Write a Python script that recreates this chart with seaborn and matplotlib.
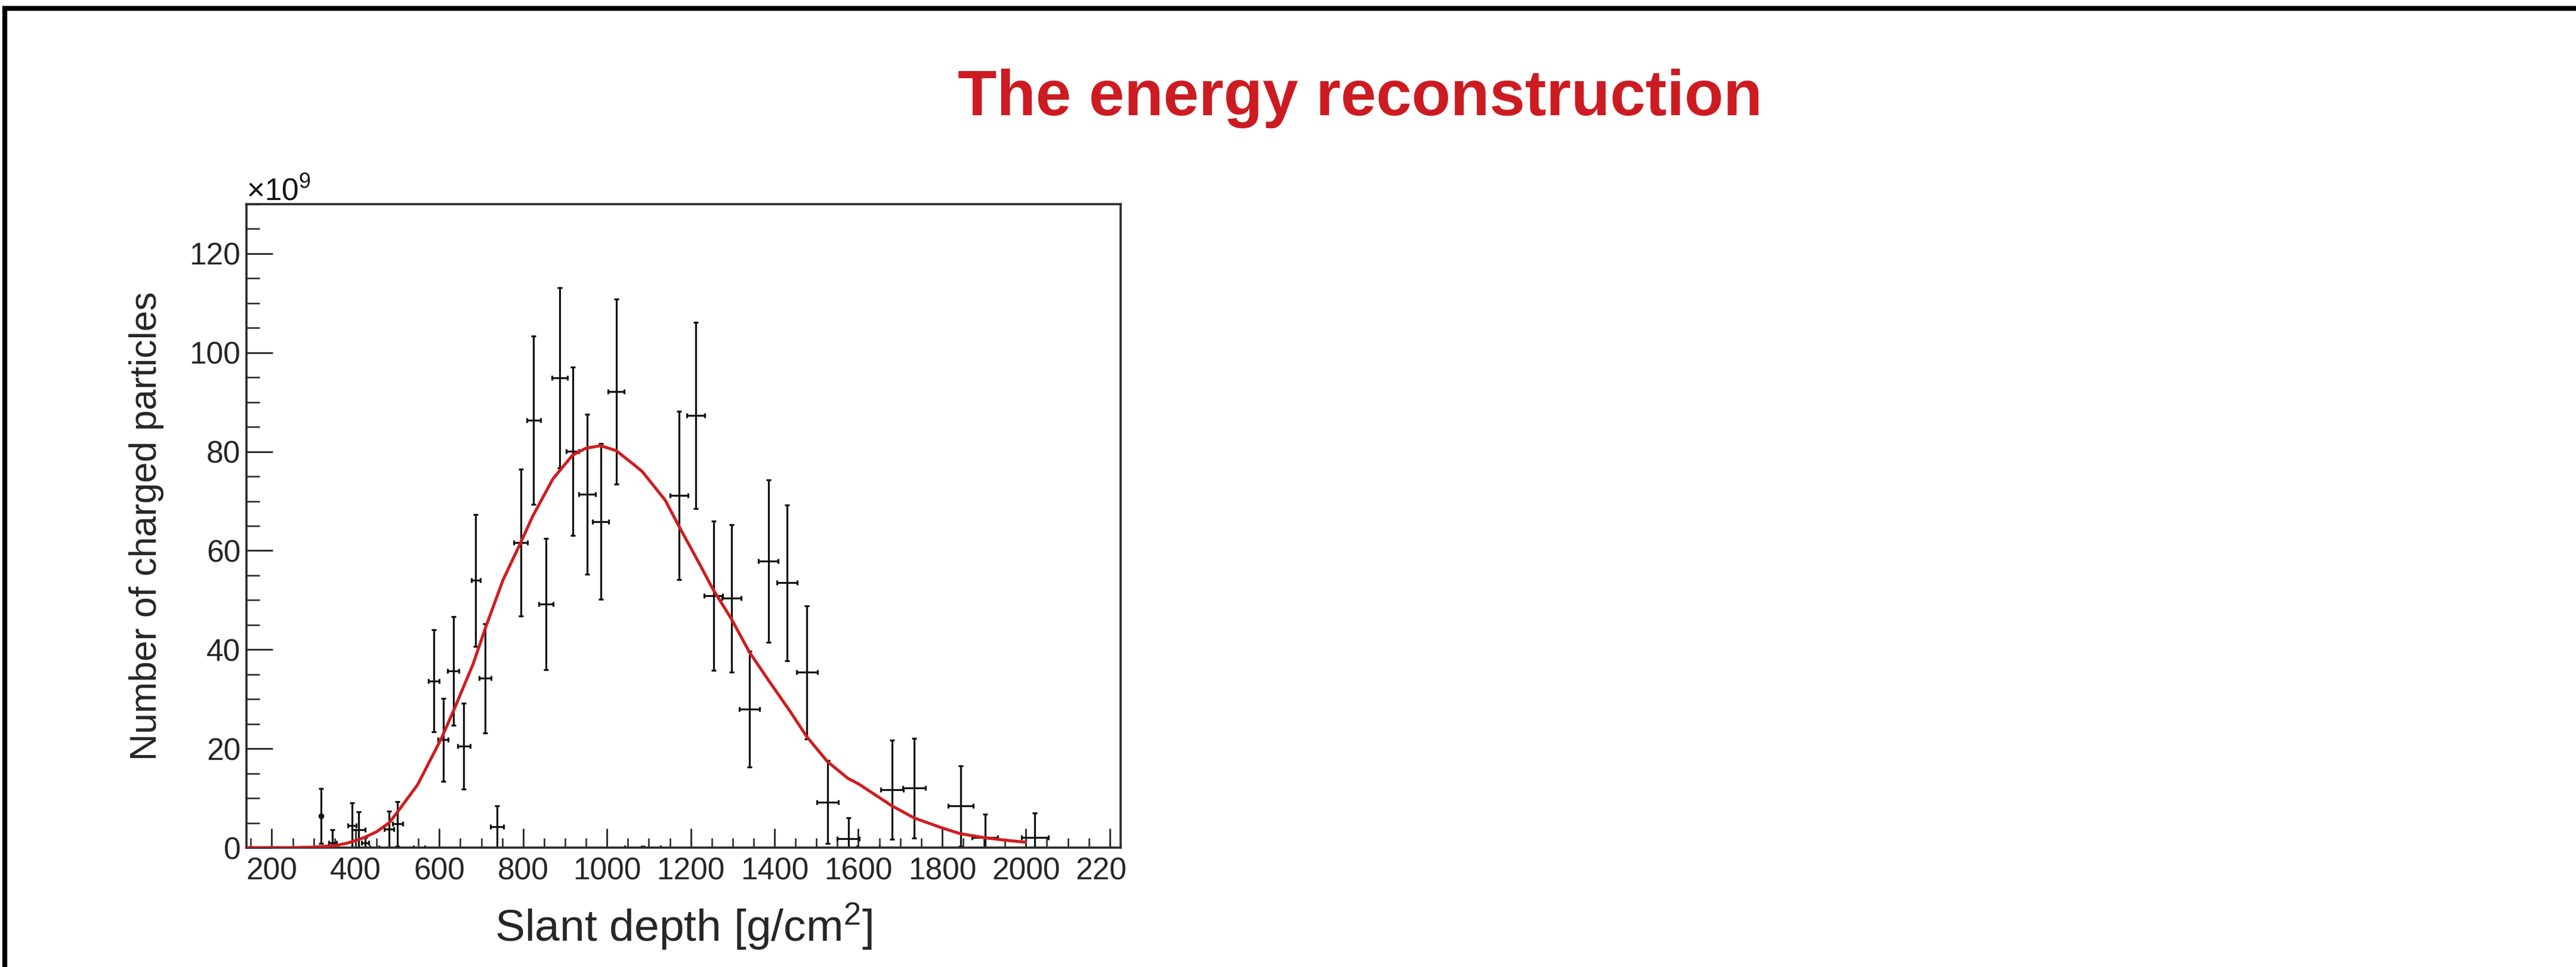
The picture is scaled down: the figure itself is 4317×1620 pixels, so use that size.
import numpy as np
import pandas as pd
import matplotlib
matplotlib.use("Agg")
import matplotlib.pyplot as plt
import seaborn as sns
from matplotlib.ticker import MultipleLocator, FixedLocator
from matplotlib.transforms import Bbox, TransformedBbox
from matplotlib.lines import Line2D

# ---------------- data ----------------
title_text = "The energy reconstruction"
x_label = "Slant depth [g/cm$^{2}$]"
y_label = "Number of charged particles"
y_multiplier = "×10$^{9}$"

depth = [318, 345, 391, 407, 423, 480, 500, 587, 609, 633, 658, 687, 709, 738,
         794, 825, 855, 887, 918, 953, 985, 1022, 1172, 1212, 1254, 1297, 1340,
         1385, 1430, 1477, 1527, 1576, 1680, 1733, 1844, 1902, 2021]
particles = [6.4, 1.0, 4.5, 3.6, 1.0, 3.7, 4.8, 33.7, 21.8, 35.7, 20.5, 54.0, 34.2, 4.2,
             61.6, 86.3, 49.2, 94.9, 80.1, 71.4, 65.9, 92.1, 71.1, 87.3, 50.9, 50.4, 28.0,
             57.9, 53.5, 35.4, 9.2, 1.8, 11.7, 12.0, 8.4, 2.0, 2.0]
particles_err = [5.5, 2.6, 4.5, 3.6, 1.0, 3.7, 4.5, 10.3, 8.4, 11.0, 8.7, 13.3, 11.0, 4.2,
                 14.8, 17.0, 13.3, 18.2, 17.0, 16.2, 15.7, 18.7, 17.0, 18.8, 15.1, 14.9, 11.7,
                 16.4, 15.7, 13.5, 8.4, 4.2, 10.0, 10.1, 8.1, 4.8, 5.0]
depth_err = [0, 9, 10, 16, 8, 11, 12, 13, 12, 14, 15, 11, 14, 16,
             16, 16, 17, 19, 15, 20, 19, 19, 21, 22, 22, 23, 24,
             24, 24, 25, 26, 26, 27, 27, 30, 31, 32]

zero_depth = [445, 552, 1062, 1108, 1623]
zero_particles = [0, 0, 0, 0, 0]
zero_depth_err = [10, 14, 20, 20, 27]

fit_depth = [140, 250, 300, 350, 380, 420, 450, 480, 500, 548, 605, 634, 681, 710,
             752, 794, 823, 871, 918, 950, 985, 1022, 1061, 1084, 1139, 1172, 1221,
             1253, 1297, 1340, 1384, 1439, 1477, 1526, 1575, 1600, 1679, 1733, 1799,
             1844, 1901, 1950, 1999]
fit_particles = [0.0, 0.0, 0.1, 0.4, 0.9, 2.0, 3.2, 5.0, 7.2, 12.7, 22.1, 27.7, 37.2, 44.4,
                 54.1, 61.6, 67.0, 74.5, 79.3, 80.7, 81.2, 80.2, 77.6, 76.0, 70.2, 64.9, 57.3,
                 52.2, 46.2, 39.5, 34.0, 27.3, 22.4, 17.4, 14.0, 12.9, 8.5, 6.0, 4.0,
                 2.8, 2.0, 1.5, 1.1]

x_ticks = [200, 400, 600, 800, 1000, 1200, 1400, 1600, 1800, 2000, 2200]
y_ticks = [0, 20, 40, 60, 80, 100, 120]

# ---------------- style ----------------
sns.set_style("white")
plt.rcParams["font.family"] = ["Liberation Sans", "DejaVu Sans"]
plt.rcParams["mathtext.fontset"] = "custom"
plt.rcParams["mathtext.rm"] = "Liberation Sans"
plt.rcParams["mathtext.it"] = "Liberation Sans:italic"
plt.rcParams["mathtext.bf"] = "Liberation Sans:bold"

W, H = 4317, 1620
RED = "#d01c1f"
INK = "#111111"

fig = plt.figure(figsize=(W / 100, H / 100), dpi=100, facecolor="white")
ax = fig.add_axes([413 / W, 1 - 1420 / H, 1465 / W, 1078 / H])

# fit curve
df_fit = pd.DataFrame({"depth": fit_depth, "n": fit_particles})
sns.lineplot(data=df_fit, x="depth", y="n", ax=ax, color=RED, lw=3.6,
             sort=False, estimator=None, zorder=3)
ax.lines[-1].set_solid_joinstyle("round")

# data points with error bars
ax.errorbar(depth, particles, yerr=particles_err, xerr=depth_err, fmt="none",
            ecolor=INK, elinewidth=2.3, capsize=3.0, capthick=2.3, zorder=2)
ax.errorbar(zero_depth, zero_particles, xerr=zero_depth_err, fmt="none",
            ecolor=INK, elinewidth=2.3, capsize=3.0, capthick=2.3, zorder=2)
ax.plot(depth[:1], particles[:1], "o", ms=6, color=INK, zorder=4)

ax.set_xlim(139.5, 2226)
ax.set_ylim(0, 130)

ax.xaxis.set_major_locator(FixedLocator(x_ticks))
ax.yaxis.set_major_locator(FixedLocator(y_ticks))
ax.xaxis.set_minor_locator(MultipleLocator(50))
ax.yaxis.set_minor_locator(MultipleLocator(5))
ax.set_xticklabels([str(t) for t in x_ticks])
ax.set_yticklabels([str(t) for t in y_ticks])

ax.tick_params(axis="x", which="major", direction="in", length=23, width=2.0,
               color="#222222", labelsize=37, pad=11, top=False, bottom=True)
ax.tick_params(axis="x", which="minor", direction="in", length=11.5, width=1.8,
               color="#222222", top=False, bottom=True)
ax.tick_params(axis="y", which="major", direction="in", length=31.5, width=2.0,
               color="#222222", labelsize=37, pad=7, left=True, right=False)
ax.tick_params(axis="y", which="minor", direction="in", length=15.8, width=1.8,
               color="#222222", left=True, right=False)

for sp in ax.spines.values():
    sp.set_linewidth(2.6)
    sp.set_color("#2a2a2a")

# axis titles
ax.set_xlabel(x_label, fontsize=54)
ax.xaxis.set_label_coords(0.5, -0.1456)
ax.xaxis.label.set_va("baseline")
ax.set_ylabel(y_label, fontsize=45)
ax.yaxis.set_label_coords(-0.1143, 0.5)
ax.yaxis.label.set_va("center")

# multiplier
ax.text(0.0, 1.0065, y_multiplier, transform=ax.transAxes, fontsize=37,
        ha="left", va="baseline", color=INK)

# clip tick labels at the pad edge (last label is cut in the original)
clip = TransformedBbox(Bbox.from_extents(0, 0, 1887 / W, 1), fig.transFigure)
for tk in ax.xaxis.get_major_ticks():
    tk.label1.set_clip_on(True)
    tk.label1.set_clip_box(clip)

# slide title
fig.text(2279 / W, 1 - 193 / H, title_text, fontsize=77, fontweight="bold",
         color="#cc1b21", ha="center", va="baseline")

# slide border (top and left)
fig.add_artist(Line2D([4 / W, 1], [1 - 13.5 / H, 1 - 13.5 / H],
                      transform=fig.transFigure, color="black", lw=6,
                      solid_capstyle="butt"))
fig.add_artist(Line2D([7.5 / W, 7.5 / W], [0, 1 - 10 / H],
                      transform=fig.transFigure, color="black", lw=6,
                      solid_capstyle="butt"))

fig.savefig("out.png", dpi=100, facecolor="white")
